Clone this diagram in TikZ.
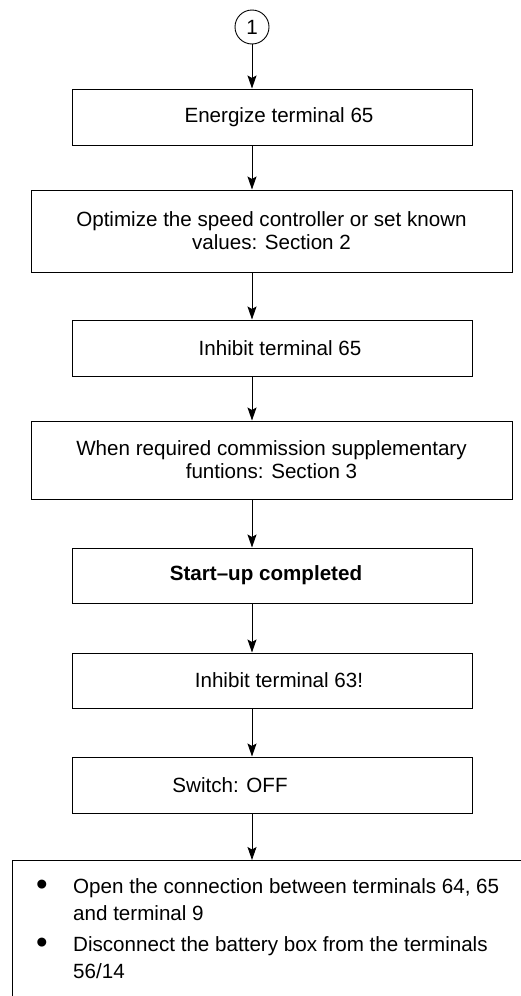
\documentclass[tikz,border=0pt]{standalone}
\usepackage{fontspec}
\setmainfont{Liberation Sans}
\usetikzlibrary{arrows.meta}
\newcommand{\bigbul}{\raisebox{-2.5pt}{\scalebox{1.6}{\textbullet}}}
\begin{document}
\begin{tikzpicture}[x=1pt,y=-1pt,
  font=\fontsize{20.6}{23}\selectfont,
  stepbox/.style={draw=black,line width=1pt,inner sep=0pt,align=center},
  narrow/.style={stepbox,minimum width=400pt},
  wide/.style={stepbox,minimum width=481pt},
  arr/.style={draw=black,line width=0.9pt,-{Stealth[length=13pt,width=9pt,inset=2.5pt]}}]
\useasboundingbox (0,0) rectangle (521,996);
\node[draw=black,line width=0.9pt,circle,minimum size=34pt,inner sep=0pt] (c1) at (252,27) {1};
\node[narrow,minimum height=56pt] (b1) at (272,117) {\hspace*{14pt}Energize terminal 65};
\node[wide,minimum height=82pt] (b2) at (271.5,231) {Optimize the speed controller or set known\\values: Section 2};
\node[narrow,minimum height=56pt] (b3) at (272,348) {\hspace*{16pt}Inhibit terminal 65};
\node[wide,minimum height=78pt] (b4) at (271.5,460) {When required commission supplementary\\funtions: Section 3};
\node[narrow,minimum height=55pt] (b5) at (272,575.5) {\bfseries Start–up completed\hspace*{12pt}};
\node[narrow,minimum height=55pt] (b6) at (272,680.5) {\hspace*{14pt}Inhibit terminal 63!};
\node[narrow,minimum height=56pt] (b7) at (272,785) {Switch: OFF\hspace*{84pt}};
\coordinate (bt) at (252,860);
\draw[line width=1pt] (521,860) -- (12,860) -- (12,996);
\node[anchor=base west,inner sep=0pt] (list) at (36,893) {\fontsize{20.6}{27}\selectfont
\begin{tabular}[t]{@{}p{37pt}@{}l@{}}
\bigbul & Open the connection between terminals 64, 65\\
 & and terminal 9\\[4pt]
\bigbul & Disconnect the battery box from the terminals\\
 & 56/14
\end{tabular}};
\draw[arr] (c1.south) -- (c1.south |- b1.north);
\draw[arr] (b1.south -| c1) -- (b2.north -| c1);
\draw[arr] (b2.south -| c1) -- (b3.north -| c1);
\draw[arr] (b3.south -| c1) -- (b4.north -| c1);
\draw[arr] (b4.south -| c1) -- (b5.north -| c1);
\draw[arr] (b5.south -| c1) -- (b6.north -| c1);
\draw[arr] (b6.south -| c1) -- (b7.north -| c1);
\draw[arr] (b7.south -| c1) -- (bt);
\end{tikzpicture}
\end{document}
